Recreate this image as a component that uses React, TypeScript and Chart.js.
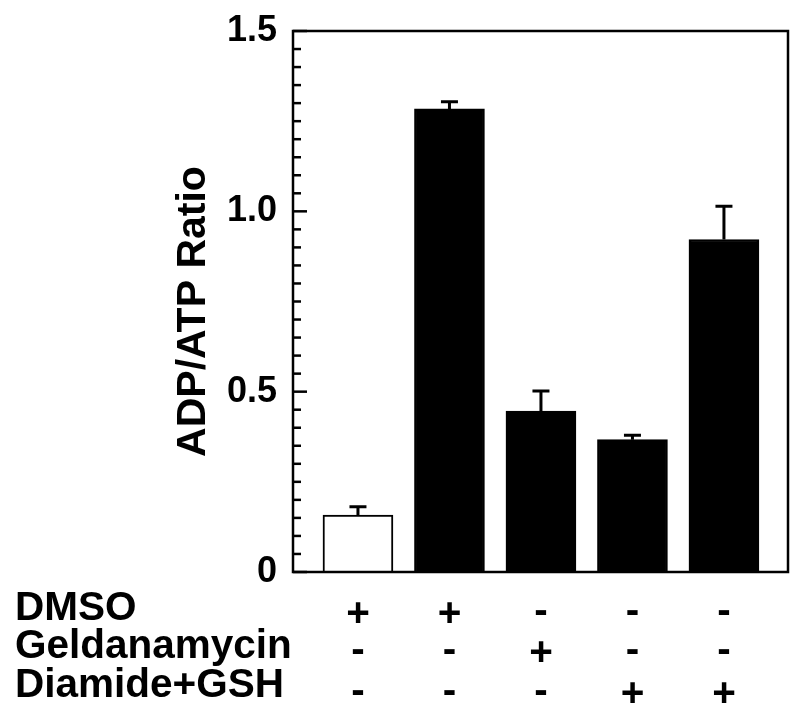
import React, { useEffect, useRef } from 'react';
import { Chart, registerables } from 'chart.js';

Chart.register(...registerables);

// ---- data ----
const conditions = [1, 2, 3, 4, 5];
const ratioValues = [0.158, 1.284, 0.446, 0.367, 0.922];
const ratioErrors = [0.023, 0.02, 0.056, 0.012, 0.092];
const barFills = ['#ffffff', '#000000', '#000000', '#000000', '#000000'];
const rowLabels = ['DMSO', 'Geldanamycin', 'Diamide+GSH'];
const dmsoSigns = ['+', '+', '-', '-', '-'];
const geldanamycinSigns = ['-', '-', '+', '-', '-'];
const diamideGshSigns = ['-', '-', '-', '+', '+'];
const yTickValues = [0, 0.5, 1.0, 1.5];
const yTickLabels = ['0', '0.5', '1.0', '1.5'];
const yAxisTitle = 'ADP/ATP Ratio';

const signRows = [dmsoSigns, geldanamycinSigns, diamideGshSigns];
const FONT = '"Liberation Sans", Arial, Helvetica, sans-serif';

const decorPlugin = {
  id: 'decor',
  afterDatasetsDraw(chart: any) {
    const { ctx, chartArea } = chart;
    const x = chart.scales.x;
    const y = chart.scales.y;
    ctx.save();
    // error bars (upper only)
    ctx.strokeStyle = '#000';
    ctx.lineWidth = 3;
    ctx.lineCap = 'butt';
    conditions.forEach((c, i) => {
      const px = x.getPixelForValue(c);
      const top = y.getPixelForValue(ratioValues[i]);
      const errTop = y.getPixelForValue(ratioValues[i] + ratioErrors[i]);
      ctx.beginPath();
      ctx.moveTo(px, top);
      ctx.lineTo(px, errTop);
      ctx.moveTo(px - 8.5, errTop);
      ctx.lineTo(px + 8.5, errTop);
      ctx.stroke();
    });
    // frame
    ctx.lineWidth = 2.5;
    ctx.strokeRect(chartArea.left, chartArea.top, chartArea.right - chartArea.left, chartArea.bottom - chartArea.top);
    // inward ticks on the y axis
    y.ticks.forEach((t: any) => {
      const v = t.value;
      const major = Math.abs(v / 0.5 - Math.round(v / 0.5)) < 1e-6;
      const py = y.getPixelForValue(v);
      ctx.beginPath();
      ctx.moveTo(chartArea.left, py);
      ctx.lineTo(chartArea.left + (major ? 14 : 8), py);
      ctx.stroke();
    });
    ctx.fillStyle = '#000';
    // y axis title
    ctx.font = 'bold 41px ' + FONT;
    ctx.save();
    ctx.translate(204.5, 311.5);
    ctx.rotate(-Math.PI / 2);
    ctx.textAlign = 'center';
    ctx.textBaseline = 'alphabetic';
    ctx.fillText(yAxisTitle, 0, 0);
    ctx.restore();
    // treatment rows
    ctx.font = 'bold 40.5px ' + FONT;
    const rowBaselines = [620, 657.5, 697];
    const signCenters = [612, 651, 692];
    rowLabels.forEach((label, r) => {
      ctx.textAlign = 'left';
      ctx.textBaseline = 'alphabetic';
      ctx.fillText(label, 15, rowBaselines[r]);
      signRows[r].forEach((s, i) => {
        const m = ctx.measureText(s);
        const asc = m.actualBoundingBoxAscent;
        const desc = m.actualBoundingBoxDescent;
        const base = signCenters[r] + (asc - desc) / 2;
        ctx.textAlign = 'center';
        ctx.fillText(s, x.getPixelForValue(conditions[i]), base);
      });
    });
    ctx.restore();
  },
};

export default function App() {
  const ref = useRef<HTMLCanvasElement | null>(null);
  useEffect(() => {
    if (!ref.current) return;
    const chart = new Chart(ref.current, {
      type: 'bar',
      data: {
        datasets: [
          {
            data: conditions.map((c, i) => ({ x: c, y: ratioValues[i] })),
            backgroundColor: barFills,
            borderColor: '#000000',
            borderWidth: 2,
            barThickness: 70,
          },
        ],
      },
      options: {
        responsive: false,
        animation: false,
        devicePixelRatio: 1,
        layout: { padding: { left: 0, right: 12, top: 31, bottom: 143 } },
        plugins: { legend: { display: false }, tooltip: { enabled: false } },
        scales: {
          x: { type: 'linear', min: 0.29, max: 5.7, display: false, offset: false },
          y: {
            min: 0,
            max: 1.5,
            border: { display: false },
            grid: { display: false, drawTicks: false },
            afterFit: (s: any) => {
              s.width = 293;
              s.paddingTop = 0;
              s.paddingBottom = 0;
            },
            ticks: {
              stepSize: 0.05,
              autoSkip: false,
              padding: 16,
              color: '#000',
              font: { family: FONT, size: 36, weight: 'bold' },
              callback: (v: any) => {
                const idx = yTickValues.findIndex((t) => Math.abs(t - Number(v)) < 1e-6);
                return idx >= 0 ? yTickLabels[idx] : '';
              },
            },
            title: { display: false },
          },
        },
      },
      plugins: [decorPlugin],
    } as any);
    return () => chart.destroy();
  }, []);
  return (
    <div style={{ position: 'absolute', left: 0, top: 0, width: 800, height: 715, background: '#fff' }}>
      <canvas ref={ref} width={800} height={715} />
    </div>
  );
}
